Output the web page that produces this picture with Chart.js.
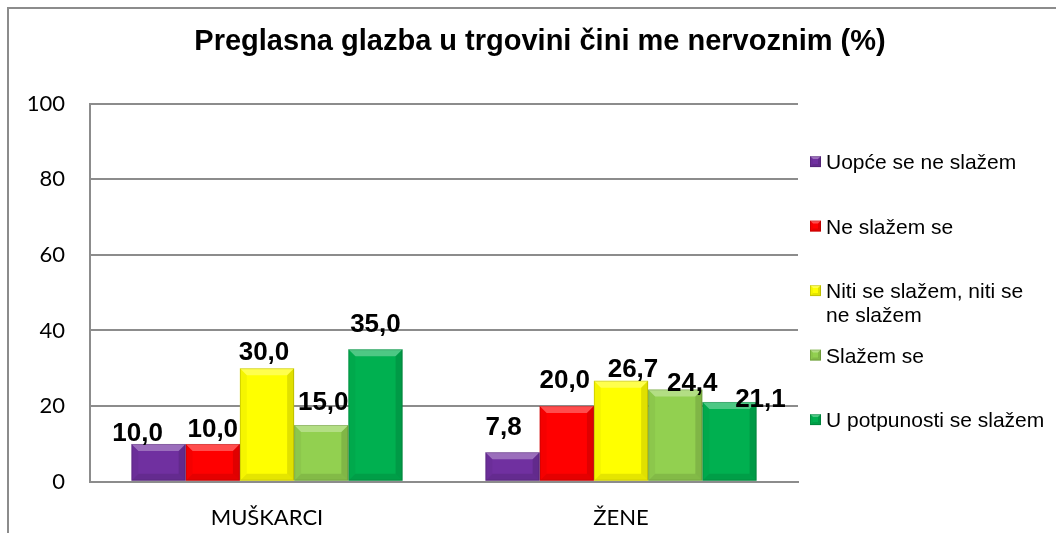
<!DOCTYPE html>
<html>
<head>
<meta charset="utf-8">
<script src="https://cdn.jsdelivr.net/npm/chart.js@4/dist/chart.umd.min.js"></script>
<style>
  html, body { margin: 0; padding: 0; background: #fff; overflow: hidden; }
  #wrap { position: relative; width: 1056px; height: 533px; }
</style>
</head>
<body>
<div id="wrap"><canvas id="chart" width="1056" height="533"></canvas></div>
<script>
// data
const categories = ['MUŠKARCI', 'ŽENE']
const seriesNames = [
  'Uopće se ne slažem',
  'Ne slažem se',
  'Niti se slažem, niti se ne slažem',
  'Slažem se',
  'U potpunosti se slažem',
]
const uopceSeNeSlazem = [10.0, 7.8]
const neSlazemSe = [10.0, 20.0]
const nitiNiti = [30.0, 26.7]
const slazemSe = [15.0, 24.4]
const uPotpunosti = [35.0, 21.1]
const yTicks = [0, 20, 40, 60, 80, 100]

const chartTitle = 'Preglasna glazba u trgovini čini me nervoznim (%)'
const seriesColors = ['#7030a0', '#ff0000', '#ffff00', '#92d050', '#00b050']

// hand placed value labels in the original: [dx, dy] from the bar top
const labelNudge = [
  [[-21, -3], [-9, -17]],
  [[0, -7], [-2, -18]],
  [[-3, -8], [12, -4]],
  [[2, -15], [17, 2]],
  [[0, -17], [31, 5]],
]

const seriesValues = [uopceSeNeSlazem, neSlazemSe, nitiNiti, slazemSe, uPotpunosti]

const fmt = (v) => v.toFixed(1).replace('.', ',')

const bevel = (ctx, l, t, r, b, size) => {
  const s = Math.min(size, (b - t) / 2, (r - l) / 2)
  const poly = (pts, fill) => {
    ctx.beginPath()
    ctx.moveTo(pts[0][0], pts[0][1])
    pts.slice(1).forEach((p) => ctx.lineTo(p[0], p[1]))
    ctx.closePath()
    ctx.fillStyle = fill
    ctx.fill()
  }
  poly([[l, t], [r, t], [r - s, t + s], [l + s, t + s]], 'rgba(255,255,255,0.3)')
  poly([[l, t], [l + s, t + s], [l + s, b - s], [l, b]], 'rgba(0,0,0,0.04)')
  poly([[r, t], [r, b], [r - s, b - s], [r - s, t + s]], 'rgba(0,0,0,0.12)')
  poly([[l, b], [l + s, b - s], [r - s, b - s], [r, b]], 'rgba(0,0,0,0.1)')
  ctx.strokeStyle = 'rgba(0,0,0,0.15)'
  ctx.lineWidth = 1
  ctx.strokeRect(l + 0.5, t + 0.5, r - l - 1, b - t - 1)
}

const decorPlugin = {
  id: 'decor',
  beforeDraw(chart) {
    const { ctx } = chart
    ctx.save()
    ctx.strokeStyle = '#8c8c8c'
    ctx.lineWidth = 2
    ctx.strokeRect(8, 8, 1200, 700)
    ctx.restore()
  },
  afterDatasetsDraw(chart) {
    const { ctx } = chart
    ctx.save()
    chart.data.datasets.forEach((ds, i) => {
      chart.getDatasetMeta(i).data.forEach((bar, j) => {
        const w = bar.width
        bevel(ctx, bar.x - w / 2, bar.y, bar.x + w / 2, bar.base, 7)
        // value label
        const [dx, dy] = labelNudge[i][j]
        ctx.fillStyle = '#000'
        ctx.font = 'bold 26px "Liberation Sans", Arial, sans-serif'
        ctx.textAlign = 'center'
        ctx.textBaseline = 'alphabetic'
        ctx.fillText(fmt(ds.data[j]), bar.x + dx, bar.y + dy)
      })
    })
    ctx.restore()
  },
  afterDraw(chart) {
    const { ctx, chartArea } = chart
    ctx.save()
    // title
    ctx.fillStyle = '#000'
    ctx.font = 'bold 29px "Liberation Sans", Arial, sans-serif'
    ctx.textAlign = 'center'
    ctx.textBaseline = 'alphabetic'
    ctx.fillText(chartTitle, 540, 50)

    // legend
    ctx.font = '21px "Liberation Sans", Arial, sans-serif'
    ctx.textAlign = 'left'
    const mid = (chartArea.top + chartArea.bottom) / 2 - 2
    const boxX = chartArea.right + 12
    const textX = boxX + 16
    const maxW = 224
    chart.data.datasets.forEach((ds, i) => {
      const cy = mid + (i - 2) * 64.5
      ctx.fillStyle = ds.backgroundColor
      ctx.fillRect(boxX, cy - 5.5, 11, 11)
      bevel(ctx, boxX, cy - 5.5, boxX + 11, cy + 5.5, 3)
      // wrap long names
      const words = ds.label.split(' ')
      const lines = []
      let line = ''
      words.forEach((w) => {
        const test = line ? line + ' ' + w : w
        if (ctx.measureText(test).width > maxW && line) {
          lines.push(line)
          line = w
        } else {
          line = test
        }
      })
      lines.push(line)
      ctx.fillStyle = '#000'
      lines.forEach((l, k) => ctx.fillText(l, textX, cy + 7.5 + k * 23.5))
    })
    ctx.restore()
  },
}

const datasets = seriesValues.map((vals, i) => ({
  label: seriesNames[i],
  data: vals,
  backgroundColor: seriesColors[i],
  borderWidth: 0,
  categoryPercentage: 0.766,
  barPercentage: 1,
}))

new Chart(document.getElementById('chart'), {
  type: 'bar',
  data: { labels: categories, datasets },
  options: {
    responsive: false,
    animation: false,
    devicePixelRatio: 1,
    layout: { padding: { top: 103.5, right: 258, bottom: 0, left: 0 } },
    plugins: {
      legend: { display: false },
      title: { display: false },
      tooltip: { enabled: false },
    },
    scales: {
      x: {
        grid: { display: false, drawTicks: false },
        border: { display: true, color: '#8c8c8c', width: 2 },
        ticks: {
          color: '#000',
          padding: 23,
          font: { family: 'Lato, "Open Sans", sans-serif', size: 22 },
        },
        afterFit: (scale) => {
          scale.height = 51.3
        },
      },
      y: {
        min: 0,
        max: 100,
        grid: { color: '#8c8c8c', lineWidth: 2, drawTicks: false },
        border: { display: true, color: '#8c8c8c', width: 2 },
        ticks: {
          color: '#000',
          padding: 25,
          font: { family: 'Lato, "Open Sans", sans-serif', size: 22 },
        },
        afterBuildTicks: (scale) => {
          scale.ticks = yTicks.map((v) => ({ value: v }))
        },
        afterFit: (scale) => {
          scale.width = 90
        },
      },
    },
  },
  plugins: [decorPlugin],
})
</script>
</body>
</html>
